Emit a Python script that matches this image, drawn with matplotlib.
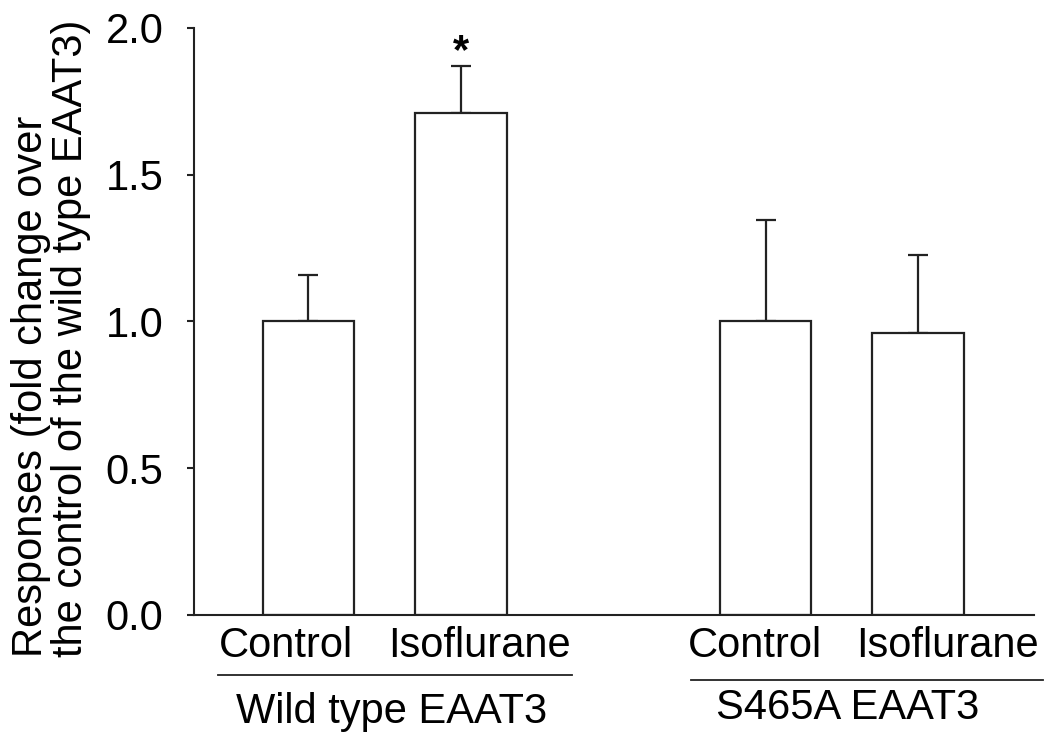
import numpy as np
import matplotlib
matplotlib.use('Agg')
import matplotlib.pyplot as plt
import matplotlib.transforms as mtransforms

plt.rcParams['font.family'] = ['Liberation Sans', 'DejaVu Sans']

# bar data (fold change over wild type control)
conditions = ['Control', 'Isoflurane', 'Control', 'Isoflurane']
groups = ['Wild type EAAT3', 'S465A EAAT3']
means = [1.0, 1.71, 1.0, 0.96]
sem = [0.16, 0.16, 0.345, 0.265]
significant = [False, True, False, False]

positions = np.array([0, 1, 3, 4])
fs = 30

fig = plt.figure(figsize=(10.5, 7.44), dpi=100)
ax = fig.add_axes([0.1848, 0.1734, 0.8, 0.789])

ax.bar(positions, means, width=0.6, color='white', edgecolor='#222222',
       linewidth=1.6, zorder=2)
ax.errorbar(positions, means, yerr=[np.zeros(len(sem)), sem], fmt='none',
            ecolor='#222222', elinewidth=1.6, capsize=7, capthick=1.6, zorder=1)

for x, m, s, sig in zip(positions, means, sem, significant):
    if sig:
        ax.text(x, m + s + 0.01, '*', ha='center', va='baseline',
                fontsize=30, fontweight='bold')

ax.set_xlim(-0.75, 4.76)
ax.set_ylim(0, 2.0)
ax.set_yticks([0, 0.5, 1.0, 1.5, 2.0])
ax.set_yticklabels(['0.0', '0.5', '1.0', '1.5', '2.0'])
ax.set_xticks([])
ax.tick_params(axis='y', labelsize=fs, length=5, width=1.5, pad=17,
               color='#222222')
for side in ['top', 'right']:
    ax.spines[side].set_visible(False)
for side in ['left', 'bottom']:
    ax.spines[side].set_linewidth(1.5)
    ax.spines[side].set_color('#222222')

trans = mtransforms.blended_transform_factory(ax.transData, ax.transAxes)

# condition labels (slightly offset from bar centres as in the original)
label_x = [-0.145, 1.12, 2.93, 4.19]
for x, lab in zip(label_x, conditions):
    ax.text(x, -0.053, lab, transform=trans, ha='center', va='center',
            fontsize=fs)

# group underline + name
group_lines = [(-0.593, 1.728, -0.102), (2.507, 4.817, -0.111)]
group_x = [0.548, 3.54]
group_y = [-0.165, -0.158]
for (x0, x1, y), gx, gy, g in zip(group_lines, group_x, group_y, groups):
    ax.plot([x0, x1], [y, y], transform=trans, color='#222222', lw=1.3,
            clip_on=False)
    ax.text(gx, gy, g, transform=trans, ha='center', va='center', fontsize=fs)

fig.text(51 / 1050, 1 - 657 / 744,
         'Responses (fold change over\nthe control of the wild type EAAT3)',
         rotation=90, ha='center', va='bottom', multialignment='left',
         fontsize=fs, linespacing=1.0)

fig.savefig('out.png', dpi=100)
